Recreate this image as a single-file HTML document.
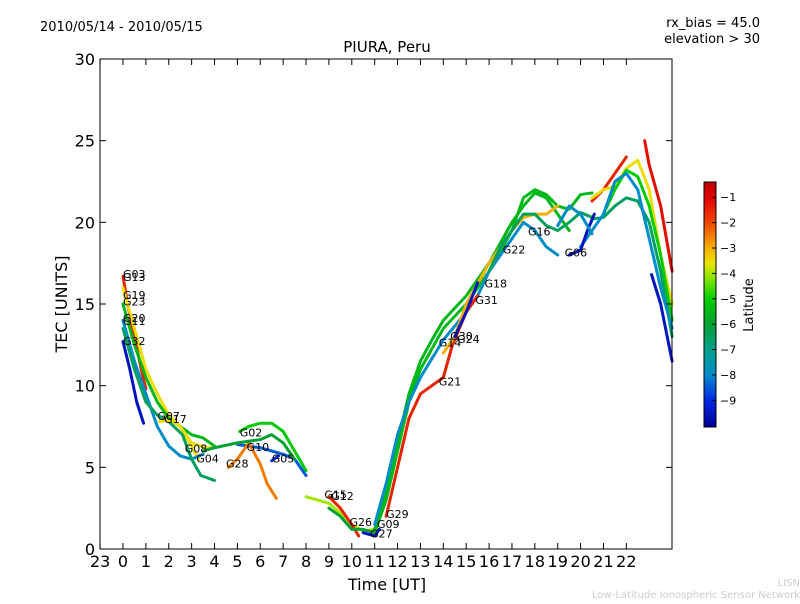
<!DOCTYPE html>
<html><head><meta charset="utf-8"><style>
body{margin:0;background:#fff;font-family:"DejaVu Sans","Liberation Sans",sans-serif}
svg text{font-family:"DejaVu Sans","Liberation Sans",sans-serif}
</style></head><body>
<svg id="c" width="800" height="600" xmlns="http://www.w3.org/2000/svg">
<defs><linearGradient id="jet" x1="0" y1="1" x2="0" y2="0"></linearGradient></defs>
<text x="40" y="31" font-size="13">2010/05/14 - 2010/05/15</text>
<text x="760" y="27" font-size="13" text-anchor="end">rx_bias = 45.0</text>
<text x="760" y="43" font-size="13" text-anchor="end">elevation &gt; 30</text>
<text x="387" y="52" font-size="15" text-anchor="middle">PIURA, Peru</text>
<g id="marks"></g>
<rect x="100" y="59" width="572" height="490" fill="none" stroke="#000"/>
<g id="axes"></g>
<text x="387" y="590" font-size="16" text-anchor="middle">Time [UT]</text>
<text transform="translate(67,304) rotate(-90)" font-size="16" text-anchor="middle">TEC [UNITS]</text>
<rect x="704" y="182" width="12" height="245" fill="url(#jet)" stroke="#000"/>
<g id="cbticks"></g>
<text transform="translate(753,305) rotate(-90)" font-size="13" text-anchor="middle">Latitude</text>
<text x="800" y="586" font-size="10" fill="#ccc" text-anchor="end">LISN</text>
<text x="800" y="598" font-size="10" fill="#ccc" text-anchor="end">Low-Latitude Ionospheric Sensor Network</text>
</svg>
<script>
const xTicks=[-1,0,1,2,3,4,5,6,7,8,9,10,11,12,13,14,15,16,17,18,19,20,21,22];
const xTickLabels=["23","0","1","2","3","4","5","6","7","8","9","10","11","12","13","14","15","16","17","18","19","20","21","22"];
const yTicks=[0,5,10,15,20,25,30];
const cbTicks=[-1,-2,-3,-4,-5,-6,-7,-8,-9];
const trackLat=[-9.5,-1.5,-3.5,-5.5,-8,-6.5,-3.5,-5,-8.5,-2.5,-6,-9,-4,-1.5,-6,-5.5,-9.5,-5.5,-8,-1.5,-3,-9.5,-6.5,-1.5,-3.5,-5,-6.5,-8,-9.5,-1.2,-9.5,-8];
const trackPts=[
[[0,12.7],[0.3,11],[0.6,9],[0.9,7.7]],
[[0,16.7],[0.2,15],[0.5,13],[0.8,11],[1,9.8]],
[[0,16],[0.5,13.5],[1,11],[1.5,9.5],[2,8.2],[2.5,7.5],[3,6.3],[3.3,5.5]],
[[0,15],[0.5,12.5],[1,10.5],[1.5,9],[2,8],[2.5,7.5],[3,7],[3.5,6.8],[4,6.3]],
[[0,14],[0.5,11.5],[1,9.5],[1.5,7.5],[2,6.3],[2.5,5.7],[3,5.5],[3.5,5.8]],
[[0,13.5],[0.5,11],[1,9],[1.5,8.2],[2,7.8],[2.6,7],[3,5.5],[3.4,4.5],[4,4.2]],
[[1.6,7.8],[2.1,7.9],[2.5,7.5],[3,6.5],[3.6,6.2],[4,6.2]],
[[5.1,7.2],[5.5,7.5],[6,7.7],[6.5,7.7],[7,7.2],[7.5,6],[8,4.8]],
[[5,6.4],[5.5,6.3],[6,6.2],[6.5,6],[7,5.8],[7.5,5.5],[8,4.5]],
[[4.6,5],[5,5.5],[5.5,6.5],[6,5.2],[6.3,4],[6.7,3.1]],
[[3.5,6],[4,6.2],[5,6.5],[6,6.7],[6.5,7],[7,6.5],[7.5,5.5]],
[[6.5,5.4],[6.8,5.7]],
[[8,3.2],[9,2.8],[9.5,2.2],[10,1.5],[10.5,1.1],[11,1.2]],
[[9,3.2],[9.5,2.5],[10,1.5],[10.3,0.8]],
[[9,2.5],[9.5,2],[10,1.2],[10.5,1.2],[11,1]],
[[11,1],[11.5,3],[12,6],[12.5,9],[13,11],[14,13.5],[15,15],[16,17],[17,19.5],[17.5,21.5],[18,22],[18.5,21.7],[19,21],[19.5,20.8],[20,21.7],[20.5,21.8]],
[[10.5,1],[11,0.8],[11.2,1.2]],
[[11,1.2],[11.5,3.5],[12,6.5],[12.5,9.5],[13,11.5],[13.5,12.8],[14,14],[15,15.5],[16,17.5],[17,20],[17.5,21],[18,21.8],[18.5,21.5],[19,20.5],[19.5,19.5]],
[[11,1.5],[11.5,4],[12,7],[12.5,9],[13,10.5],[14,12.8],[15,14.5],[15.5,15.5],[16,17],[17,19],[17.5,20],[18,19.5],[18.5,18.5],[19,18]],
[[11.5,2],[12,5],[12.5,8],[13,9.5],[14,10.5],[14.4,12.5],[15,14.5],[15.5,15.5]],
[[14,12],[14.5,13],[15,15],[16,17.5],[17,19.5],[17.5,20.3],[18,20.5],[18.5,20.5],[19,21]],
[[14.5,13],[15,14.5],[15.5,16.3]],
[[16,17],[16.5,18.5],[17,19.5],[17.5,20.5],[18,20.5],[18.5,19.8],[19,19.5],[19.5,20],[20,20.6],[20.5,20.3]],
[[20.5,21.3],[21,22],[21.5,23],[22,24]],
[[20.5,21.5],[21,22],[21.5,22.2],[22,23.3],[22.5,23.8],[23,22],[23.5,18],[24,15]],
[[21,20.5],[21.5,22],[22,23.2],[22.5,22.8],[23,21],[23.5,18],[24,14]],
[[20.5,20.2],[21,20.3],[21.5,21],[22,21.5],[22.5,21.3],[23,20],[23.5,17],[24,13]],
[[20,18.5],[20.5,19.5],[21,20.5],[21.5,22.5],[22,23],[22.5,22],[23,19],[23.5,16],[24,13.5]],
[[23.1,16.8],[23.5,15],[24,11.5]],
[[22.8,25],[23,23.5],[23.5,21],[24,17]],
[[19.5,18],[20,18.3],[20.3,19.5],[20.6,20.5]],
[[19,19.8],[19.5,21],[20,20.5],[20.5,19.3]]
];
const labelNames=["G03","G13","G19","G23","G20","G11","G32","G07","G17","G08","G04","G28","G02","G10","G05","G15","G12","G26","G09","G29","G27","G21","G14","G30","G24","G31","G18","G22","G16","G06"];
const labelT=[0,0,0,0,0,0,0,1.5,1.8,2.7,3.2,4.5,5.1,5.4,6.5,8.8,9.1,9.9,11.1,11.5,10.8,13.8,13.8,14.3,14.6,15.4,15.8,16.6,17.7,19.3];
const labelV=[16.6,16.4,15.3,14.9,13.9,13.7,12.5,7.9,7.7,5.9,5.3,5.0,6.9,6.0,5.3,3.1,3.0,1.4,1.3,1.9,0.7,10.0,12.4,12.8,12.6,15.0,16.0,18.1,19.2,17.9];
const NS="http://www.w3.org/2000/svg";
const X=t=>123+t*22.88, Y=v=>549-v*16.333;
const latMin=-10.05,latMax=-0.4;
const cmap=[[-10.05,[0,0,150]],[-9,[0,40,230]],[-8,[0,140,200]],[-7,[0,160,140]],[-6,[0,160,50]],[-5,[0,205,0]],[-4.2,[130,230,0]],[-3.6,[235,230,0]],[-3,[245,175,0]],[-2,[240,70,0]],[-1,[225,0,0]],[-0.4,[190,0,0]]];
function jet(lat){lat=Math.max(latMin,Math.min(latMax,lat));
 for(let i=0;i<cmap.length-1;i++){const a=cmap[i],b=cmap[i+1];if(lat<=b[0]){const f=(lat-a[0])/(b[0]-a[0]);
 return 'rgb('+a[1].map((c,k)=>Math.round(c+(b[1][k]-c)*f)).join(',')+')';}}
 return 'rgb(190,0,0)';}
function mk(tag,a,p){const e=document.createElementNS(NS,tag);for(const k in a)e.setAttribute(k,a[k]);p.appendChild(e);return e;}
const grad=document.getElementById('jet');
cmap.forEach(s=>mk('stop',{offset:(s[0]-latMin)/(latMax-latMin),'stop-color':'rgb('+s[1].join(',')+')'},grad));
const marks=document.getElementById('marks'),axes=document.getElementById('axes'),cb=document.getElementById('cbticks');
trackPts.forEach((pts,i)=>{
 const pl=mk('polyline',{points:pts.map(p=>{const t=Math.min(p[0],24.15);return X(t)+','+Y(p[1]);}).join(' '),fill:'none',stroke:jet(trackLat[i]),'stroke-width':3,'stroke-linejoin':'round','stroke-linecap':'round'},marks);
 
 
});
labelNames.forEach((n,i)=>{
 const t=mk('text',{x:X(labelT[i]),y:Y(labelV[i]),'font-size':11},marks);t.textContent=n;
 
 
});
xTicks.forEach((v,i)=>{
 mk('line',{x1:X(v),x2:X(v),y1:549,y2:543,stroke:'#000'},axes);
 mk('line',{x1:X(v),x2:X(v),y1:59,y2:65,stroke:'#000'},axes);
 const t=mk('text',{x:X(v),y:567,'font-size':16,'text-anchor':'middle'},axes);t.textContent=xTickLabels[i];
 
 
});
yTicks.forEach(v=>{
 mk('line',{x1:100,x2:106,y1:Y(v),y2:Y(v),stroke:'#000'},axes);
 mk('line',{x1:666,x2:672,y1:Y(v),y2:Y(v),stroke:'#000'},axes);
 const t=mk('text',{x:95,y:Y(v)+6,'font-size':16,'text-anchor':'end'},axes);t.textContent=v;
 
 
});
cbTicks.forEach(v=>{
 const y=182+(latMax-v)/(latMax-latMin)*245;
 mk('line',{x1:712,x2:716,y1:y,y2:y,stroke:'#000'},cb);
 const t=mk('text',{x:720,y:y+4,'font-size':11},cb);t.textContent='\u2212'+(-v);
 
 
});
</script>
</body></html>
